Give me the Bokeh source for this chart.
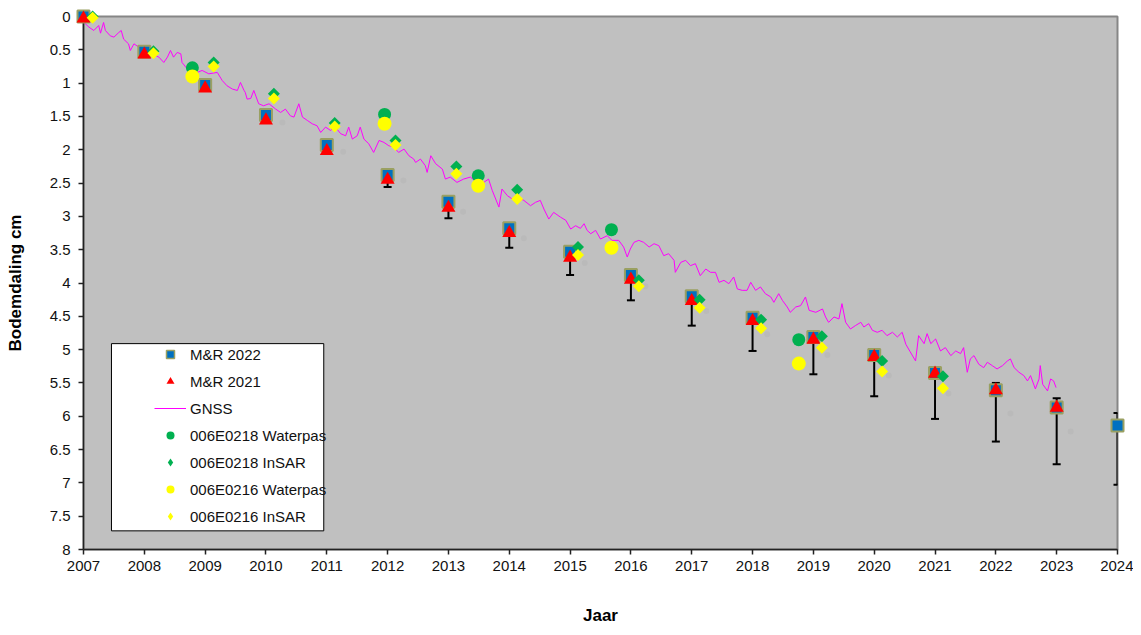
import math
from bokeh.plotting import figure
from bokeh.models import Range1d, FixedTicker, Legend, LegendItem, BoxAnnotation
from bokeh.embed import file_html
from bokeh.resources import INLINE

FONT = "Liberation Sans"

# ---------------- data ----------------
x_ticks = list(range(2007, 2025))
x_tick_labels = [str(t) for t in x_ticks]
y_ticks = [0, 0.5, 1, 1.5, 2, 2.5, 3, 3.5, 4, 4.5, 5, 5.5, 6, 6.5, 7, 7.5, 8]
y_tick_labels = ["0", "0.5", "1", "1.5", "2", "2.5", "3", "3.5", "4", "4.5",
                 "5", "5.5", "6", "6.5", "7", "7.5", "8"]

mr2022_year = [2007, 2008, 2009, 2010, 2011, 2012, 2013, 2014, 2015, 2016,
               2017, 2018, 2019, 2020, 2021, 2022, 2023, 2024]
mr2022_cm = [0.0, 0.53, 1.03, 1.48, 1.93, 2.38, 2.78, 3.18, 3.53, 3.88,
             4.20, 4.52, 4.81, 5.08, 5.35, 5.61, 5.87, 6.14]

mr2021_year = [2007, 2008, 2009, 2010, 2011, 2012, 2013, 2014, 2015, 2016,
               2017, 2018, 2019, 2020, 2021, 2022, 2023]
mr2021_cm = [0.03, 0.57, 1.08, 1.56, 2.02, 2.45, 2.87, 3.25, 3.62, 3.95,
             4.27, 4.57, 4.85, 5.11, 5.36, 5.61, 5.87]

err_year = [2012, 2013, 2014, 2015, 2016, 2017, 2018, 2019, 2020, 2021, 2022, 2023, 2024]
err_top = [2.45, 2.87, 3.25, 3.62, 3.95, 4.27, 4.57, 4.85, 5.11, 5.36, 5.50, 5.73, 5.95]
err_bottom = [2.56, 3.03, 3.47, 3.88, 4.26, 4.64, 5.02, 5.37, 5.70, 6.04, 6.38, 6.72, 7.03]

wp218_year = [2008.79, 2011.95, 2013.49, 2015.68, 2018.76]
wp218_cm = [0.77, 1.47, 2.39, 3.20, 4.85]

wp216_year = [2008.79, 2011.95, 2013.49, 2015.68, 2018.76]
wp216_cm = [0.90, 1.61, 2.54, 3.47, 5.21]

insar218_year = [2007.15, 2008.15, 2009.14, 2010.13, 2011.13, 2012.13, 2013.13, 2014.13,
                 2015.13, 2016.13, 2017.13, 2018.14, 2019.14, 2020.13, 2021.13]
insar218_cm = [0.0, 0.52, 0.69, 1.16, 1.60, 1.86, 2.25, 2.60,
               3.46, 3.96, 4.25, 4.55, 4.80, 5.17, 5.40]

insar216_year = [2007.15, 2008.15, 2009.14, 2010.13, 2011.13, 2012.13, 2013.13, 2014.13,
                 2015.13, 2016.13, 2017.13, 2018.14, 2019.14, 2020.13, 2021.13]
insar216_cm = [0.02, 0.55, 0.75, 1.23, 1.65, 1.93, 2.36, 2.74,
               3.58, 4.05, 4.37, 4.68, 4.97, 5.33, 5.58]

faint_year = [2010.27, 2011.27, 2012.26, 2013.24, 2014.24, 2015.24, 2016.24, 2017.24,
              2018.24, 2019.23, 2020.24, 2021.22, 2022.24, 2023.23]
faint_cm = [1.59, 2.03, 2.46, 2.93, 3.33, 3.70, 4.05, 4.42,
            4.77, 5.08, 5.39, 5.66, 5.96, 6.23]

gnss_year = [2007.00, 2007.02, 2007.09, 2007.17, 2007.25, 2007.28, 2007.33, 2007.36, 2007.44, 2007.50,
             2007.58, 2007.62, 2007.66, 2007.74, 2007.77, 2007.83, 2007.91, 2007.99,
             2008.13, 2008.24, 2008.32, 2008.38, 2008.43, 2008.48, 2008.54, 2008.60, 2008.62, 2008.71,
             2008.87, 2008.95,
             2009.06, 2009.20, 2009.28, 2009.36, 2009.45, 2009.53, 2009.58, 2009.64, 2009.66, 2009.69,
             2009.75, 2009.80, 2009.88, 2009.96,
             2010.05, 2010.16, 2010.24, 2010.32, 2010.40, 2010.46, 2010.54, 2010.60, 2010.68, 2010.76,
             2010.84, 2010.90, 2010.98,
             2011.06, 2011.14, 2011.23, 2011.31, 2011.36, 2011.42, 2011.50, 2011.55, 2011.61, 2011.69,
             2011.77, 2011.86, 2011.94,
             2012.02, 2012.10, 2012.18, 2012.27, 2012.35, 2012.43, 2012.46, 2012.54, 2012.62, 2012.65,
             2012.71, 2012.79, 2012.90, 2012.95,
             2013.03, 2013.14, 2013.25, 2013.36, 2013.47, 2013.58, 2013.66, 2013.72, 2013.83, 2013.88,
             2013.97,
             2014.05, 2014.13, 2014.24, 2014.35, 2014.43, 2014.51, 2014.57, 2014.65, 2014.73, 2014.84,
             2014.93,
             2015.01, 2015.09, 2015.17, 2015.23, 2015.28, 2015.34, 2015.42, 2015.50, 2015.61, 2015.69,
             2015.80, 2015.88, 2015.94, 2015.99,
             2016.05, 2016.13, 2016.21, 2016.30, 2016.38, 2016.46, 2016.54, 2016.62, 2016.71, 2016.73,
             2016.82, 2016.90, 2016.98,
             2017.06, 2017.14, 2017.23, 2017.31, 2017.39, 2017.45, 2017.53, 2017.61, 2017.69, 2017.75,
             2017.83, 2017.91, 2017.97,
             2018.05, 2018.13, 2018.21, 2018.30, 2018.35, 2018.43, 2018.49, 2018.57, 2018.62, 2018.71,
             2018.79, 2018.87, 2018.93,
             2019.04, 2019.15, 2019.20, 2019.25, 2019.34, 2019.42, 2019.47, 2019.53, 2019.61, 2019.69,
             2019.78, 2019.83, 2019.91, 2019.97,
             2020.05, 2020.13, 2020.21, 2020.30, 2020.38, 2020.46, 2020.52, 2020.59, 2020.68, 2020.73,
             2020.82, 2020.87, 2020.93,
             2021.01, 2021.09, 2021.17, 2021.26, 2021.34, 2021.42, 2021.47, 2021.53, 2021.58, 2021.64,
             2021.72, 2021.80, 2021.86, 2021.94,
             2022.02, 2022.11, 2022.19, 2022.24, 2022.30, 2022.38, 2022.46, 2022.52, 2022.57, 2022.65,
             2022.71, 2022.73, 2022.77, 2022.85, 2022.90, 2022.95, 2022.99]
gnss_cm = [0.04, 0.10, 0.16, 0.21, 0.135, 0.25, 0.09, 0.21, 0.29, 0.31,
           0.24, 0.21, 0.34, 0.41, 0.51, 0.41, 0.46, 0.54,
           0.56, 0.61, 0.69, 0.61, 0.51, 0.61, 0.54, 0.56, 0.69, 0.79,
           0.84, 0.81,
           0.86, 0.84, 0.96, 1.04, 1.09, 1.11, 0.99, 1.11, 1.14, 1.24,
           1.23, 1.11, 1.31, 1.34,
           1.31, 1.39, 1.44, 1.39, 1.49, 1.51, 1.31, 1.51, 1.56, 1.61,
           1.64, 1.74, 1.66,
           1.71, 1.66, 1.76, 1.79, 1.66, 1.84, 1.79, 1.66, 1.84, 1.91,
           2.04, 1.86, 1.89,
           1.94, 1.96, 2.04, 1.99, 2.09, 2.14, 2.19, 2.14, 2.24, 2.34,
           2.09, 2.21, 2.29, 2.44,
           2.41, 2.49, 2.44, 2.41, 2.49, 2.49, 2.44, 2.61, 2.86, 2.59,
           2.69,
           2.74, 2.71, 2.76, 2.84, 2.79, 2.76, 2.89, 3.04, 2.94, 3.01,
           3.06,
           3.19, 3.14, 3.18, 3.11, 3.21, 3.26, 3.21, 3.34, 3.29, 3.36,
           3.36, 3.46, 3.61, 3.49,
           3.39, 3.36, 3.39, 3.46, 3.41, 3.44, 3.59, 3.56, 3.66, 3.84,
           3.69, 3.66, 3.74,
           3.71, 3.89, 3.79, 3.84, 3.84, 3.99, 3.96, 4.01, 3.91, 4.09,
           4.11, 4.11, 3.99,
           4.11, 4.06, 4.16, 4.21, 4.29, 4.16, 4.26, 4.36, 4.44, 4.36,
           4.34, 4.21, 4.41,
           4.44, 4.39, 4.51, 4.59, 4.51, 4.54, 4.31, 4.59, 4.69, 4.64,
           4.59, 4.66, 4.61, 4.71,
           4.74, 4.71, 4.79, 4.74, 4.81, 4.74, 4.92, 5.03, 5.17, 4.79,
           4.91, 4.76, 4.91,
           4.84, 5.02, 4.97, 5.09, 5.02, 5.06, 4.97, 5.34, 5.14, 5.09,
           5.22, 5.27, 5.19, 5.24,
           5.29, 5.24, 5.17, 5.14, 5.27, 5.34, 5.39, 5.47, 5.39, 5.59,
           5.44, 5.24, 5.52, 5.62, 5.44, 5.47, 5.57]
assert len(gnss_year) == len(gnss_cm)

# ---------------- colours ----------------
BG = "#C0C0C0"
BLUE = "#0070C0"
OLIVE = "#9AA062"
RED = "#FF0000"
MAGENTA = "#FF00FF"
GREEN = "#00B050"
YELLOW = "#FFFF00"

# ---------------- figure ----------------
p = figure(width=1133, height=627, output_backend="svg", toolbar_location=None,
           x_range=Range1d(2007, 2024), y_range=Range1d(8, 0),
           min_border_left=83, min_border_right=16, min_border_top=16, min_border_bottom=78,
           background_fill_color=BG, border_fill_color="white")
p.outline_line_color = "#868686"
p.outline_line_width = 2
p.grid.visible = False

for ax in (p.xaxis[0], p.yaxis[0]):
    ax.axis_line_color = "#222222"
    ax.axis_line_width = 1.5
    ax.major_tick_line_color = "#222222"
    ax.major_tick_line_width = 1.5
    ax.major_tick_out = 5
    ax.major_tick_in = 0
    ax.minor_tick_line_color = None
    ax.major_label_text_font = FONT
    ax.major_label_text_font_size = "15px"
    ax.major_label_text_color = "#111111"
    ax.axis_label_text_font = FONT
    ax.axis_label_text_font_size = "17px"
    ax.axis_label_text_font_style = "bold"
    ax.axis_label_text_color = "black"

p.xaxis.ticker = FixedTicker(ticks=x_ticks)
p.xaxis.major_label_overrides = dict(zip(x_ticks, x_tick_labels))
p.xaxis.major_label_standoff = 6
p.xaxis.axis_label = "Jaar"
p.xaxis.axis_label_standoff = 32

p.yaxis.ticker = FixedTicker(ticks=y_ticks)
p.yaxis.major_label_overrides = dict(zip(y_ticks, y_tick_labels))
p.yaxis.major_label_standoff = 8
p.yaxis.axis_label = "Bodemdaling cm"
p.yaxis.axis_label_standoff = 22

# ---------------- glyphs ----------------
gnss = p.line(gnss_year, gnss_cm, line_color=MAGENTA, line_width=1)

p.scatter(faint_year, faint_cm, marker="circle", size=6, fill_color="#BABABA", line_color=None)

p.segment(x0=err_year, y0=err_top, x1=err_year, y1=err_bottom, line_color="black", line_width=2)
p.scatter(err_year, err_bottom, marker="dash", size=8, line_color="black", line_width=2)
p.scatter(err_year, err_top, marker="dash", size=8, line_color="black", line_width=2)

p.scatter(mr2022_year, mr2022_cm, marker="square", size=12, fill_color=BLUE,
          line_color=OLIVE, line_width=2, level="overlay")
p.scatter(mr2021_year, mr2021_cm, marker="triangle", size=14, fill_color=RED,
          line_color=None, level="overlay")
p.scatter(wp218_year, wp218_cm, marker="circle", size=13, fill_color=GREEN,
          line_color=None, level="overlay")
p.scatter(insar218_year, insar218_cm, marker="square", angle=math.pi / 4, size=8.5,
          fill_color=GREEN, line_color=None, level="overlay")
p.scatter(wp216_year, wp216_cm, marker="circle", size=14, fill_color=YELLOW,
          line_color=None, level="overlay")
p.scatter(insar216_year, insar216_cm, marker="square", angle=math.pi / 4, size=8.5,
          fill_color=YELLOW, line_color=None, level="overlay")

# legend proxies (smaller markers, as in the reference legend)
nan = [float("nan")]
lg_sq = p.scatter(nan, nan, marker="square", size=8, fill_color=BLUE, line_color=OLIVE, line_width=1.5)
lg_tr = p.scatter(nan, nan, marker="triangle", size=9, fill_color=RED, line_color=None)
lg_gc = p.scatter(nan, nan, marker="circle", size=9, fill_color=GREEN, line_color=None)
lg_gd = p.scatter(nan, nan, marker="diamond", size=10, fill_color=GREEN, line_color=None)
lg_yc = p.scatter(nan, nan, marker="circle", size=9, fill_color=YELLOW, line_color=None)
lg_yd = p.scatter(nan, nan, marker="diamond", size=10, fill_color=YELLOW, line_color=None)

legend_box = BoxAnnotation(left=2007.46, right=2010.95, top=4.91, bottom=7.72,
                           fill_color="white", fill_alpha=1.0,
                           line_color="black", line_width=1, line_alpha=1.0)
p.add_layout(legend_box)

legend = Legend(items=[
    LegendItem(label="M&R 2022", renderers=[lg_sq]),
    LegendItem(label="M&R 2021", renderers=[lg_tr]),
    LegendItem(label="GNSS", renderers=[gnss]),
    LegendItem(label="006E0218 Waterpas", renderers=[lg_gc]),
    LegendItem(label="006E0218 InSAR", renderers=[lg_gd]),
    LegendItem(label="006E0216 Waterpas", renderers=[lg_yc]),
    LegendItem(label="006E0216 InSAR", renderers=[lg_yd]),
], location=(71, 23), padding=0, spacing=7, margin=0,
    glyph_width=32, glyph_height=20, label_standoff=4,
    label_text_font=FONT, label_text_font_size="15px", label_text_color="#111111",
    background_fill_alpha=0, border_line_alpha=0)
p.add_layout(legend)

open("out.html", "w").write(file_html(p, INLINE))
